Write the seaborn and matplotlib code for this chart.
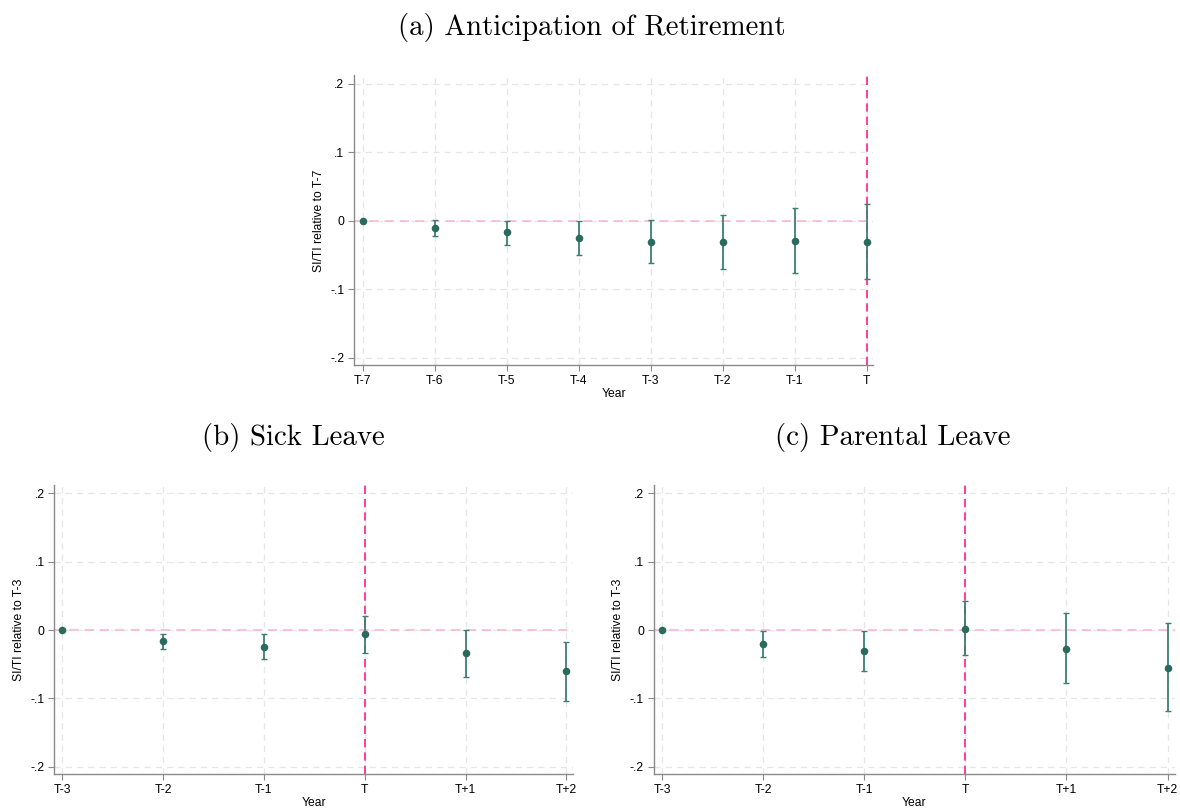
import matplotlib
matplotlib.use('Agg')
import matplotlib.pyplot as plt
import seaborn as sns
import pandas as pd
import numpy as np

# Panel (a): anticipation of retirement
ret_labels = ["T-7", "T-6", "T-5", "T-4", "T-3", "T-2", "T-1", "T"]
ret_coef = [0.0, -0.011, -0.017, -0.025, -0.031, -0.031, -0.029, -0.031]
ret_lo = [0.0, -0.023, -0.035, -0.050, -0.062, -0.071, -0.076, -0.085]
ret_hi = [0.0, 0.001, 0.000, -0.001, 0.001, 0.008, 0.018, 0.024]

# Panel (b): sick leave
sick_labels = ["T-3", "T-2", "T-1", "T", "T+1", "T+2"]
sick_coef = [0.0, -0.0155, -0.024, -0.006, -0.034, -0.060]
sick_lo = [0.0, -0.027, -0.042, -0.033, -0.069, -0.103]
sick_hi = [0.0, -0.005, -0.005, 0.020, 0.000, -0.017]

# Panel (c): parental leave
par_labels = ["T-3", "T-2", "T-1", "T", "T+1", "T+2"]
par_coef = [0.0, -0.021, -0.031, 0.002, -0.027, -0.055]
par_lo = [0.0, -0.040, -0.060, -0.037, -0.078, -0.119]
par_hi = [0.0, -0.002, -0.002, 0.043, 0.025, 0.010]

ytick_vals = [-0.2, -0.1, 0.0, 0.1, 0.2]
ytick_text = ["-.2", "-.1", "0", ".1", ".2"]

sns.set_theme(style="white")
plt.rcParams['font.family'] = ['Liberation Sans', 'DejaVu Sans']
plt.rcParams['text.color'] = 'black'
plt.rcParams['axes.labelcolor'] = 'black'
plt.rcParams['xtick.color'] = 'black'
plt.rcParams['ytick.color'] = 'black'

POINT = "#2a6b5d"
BAR = "#3f7f72"
VLINE = "#ff1f8e"
HLINE = "#f7b3cf"
GRID = "#e6e6e6"
SPINE = "#8a8a8a"


def event_panel(ax, labels, coef, lo, hi, ref, xlim):
    df = pd.DataFrame({"pos": np.arange(len(labels)), "coef": coef,
                       "lo": lo, "hi": hi})
    ax.grid(True, color=GRID, linestyle=(0, (5, 4)), linewidth=0.9)
    ax.set_axisbelow(True)
    ax.axhline(0, color=HLINE, linestyle=(0, (6, 4)), linewidth=1.1, zorder=1)
    t_pos = labels.index("T")
    ax.axvline(t_pos, color=VLINE, linestyle=(0, (5, 3)), linewidth=1.2, zorder=1)
    ax.errorbar(df["pos"], df["coef"],
                yerr=[df["coef"] - df["lo"], df["hi"] - df["coef"]],
                fmt='none', ecolor=BAR, elinewidth=1.3, capsize=2.5,
                capthick=1.0, zorder=3)
    sns.scatterplot(data=df, x="pos", y="coef", ax=ax, color=POINT, s=30,
                    edgecolor=POINT, linewidth=0, zorder=4)
    ax.set_xlim(*xlim)
    ax.set_ylim(-0.211, 0.212)
    ax.set_xticks(df["pos"])
    ax.set_xticklabels(labels)
    ax.set_yticks(ytick_vals)
    ax.set_yticklabels(ytick_text)
    ax.set_xlabel("Year", fontsize=8.7, labelpad=1)
    ax.set_ylabel(f"SI/TI relative to {ref}", fontsize=8.7, labelpad=4)
    ax.tick_params(axis='both', labelsize=8.7, length=4, width=0.8,
                   color=SPINE, labelcolor='black', pad=3, direction='out',
                   bottom=True, left=True)
    for side in ["top", "right"]:
        ax.spines[side].set_visible(False)
    for side in ["left", "bottom"]:
        ax.spines[side].set_color(SPINE)
        ax.spines[side].set_linewidth(1.0)


fig = plt.figure(figsize=(11.8, 8.1), dpi=100)
ax_a = fig.add_axes([0.300, 0.549, 0.440, 0.358])
ax_b = fig.add_axes([0.046, 0.044, 0.440, 0.357])
ax_c = fig.add_axes([0.554, 0.044, 0.442, 0.357])

event_panel(ax_a, ret_labels, ret_coef, ret_lo, ret_hi, "T-7", (-0.12, 7.09))
event_panel(ax_b, sick_labels, sick_coef, sick_lo, sick_hi, "T-3", (-0.08, 5.07))
event_panel(ax_c, par_labels, par_coef, par_lo, par_hi, "T-3", (-0.086, 5.077))

title_font = dict(family=['cmr10', 'DejaVu Serif'], fontsize=20.8,
                  ha='center', va='center', color='black')
fig.text(592 / 1180, 1 - 28 / 810, "(a) Anticipation of Retirement", **title_font)
fig.text(293 / 1180, 1 - 437 / 810, "(b) Sick Leave", **title_font)
fig.text(893 / 1180, 1 - 437 / 810, "(c) Parental Leave", **title_font)

fig.savefig("out.png", dpi=100)
plt.close(fig)
